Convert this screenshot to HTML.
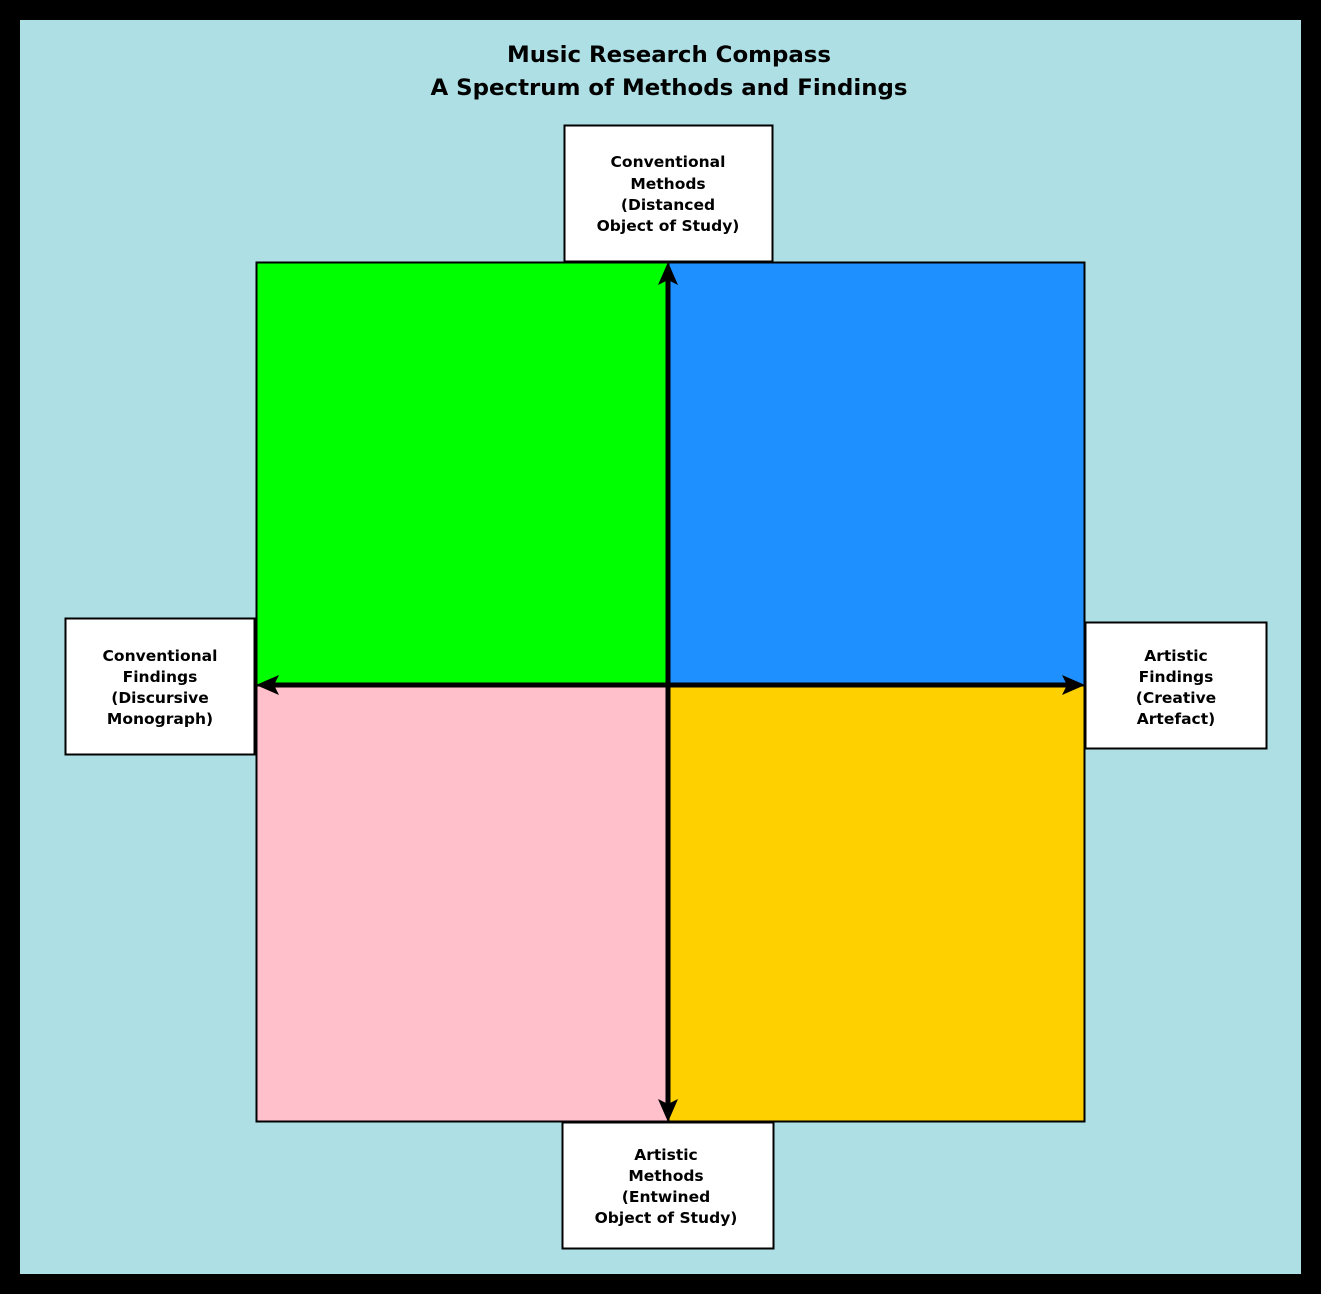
<!DOCTYPE html>
<html><head><meta charset="utf-8"><style>
html,body{margin:0;padding:0;background:#000;}
svg{display:block;}
text{font-family:"DejaVu Sans","Liberation Sans",sans-serif;font-weight:bold;fill:#000;}
</style></head><body>
<svg width="1321" height="1294" viewBox="0 0 1321 1294" xmlns="http://www.w3.org/2000/svg">
<rect x="0" y="0" width="1321" height="1294" fill="#000"/>
<rect x="20" y="20" width="1281" height="1254" fill="#ADDFE5"/>
<text x="669" y="62" font-size="22" text-anchor="middle" textLength="324" lengthAdjust="spacingAndGlyphs">Music Research Compass</text>
<text x="669" y="95" font-size="22" text-anchor="middle" textLength="477" lengthAdjust="spacingAndGlyphs">A Spectrum of Methods and Findings</text>

<rect x="256.5" y="262.5" width="412" height="423" fill="#00FF00" stroke="#000" stroke-width="2"/>
<rect x="668.5" y="262.5" width="416" height="423" fill="#1E90FF" stroke="#000" stroke-width="2"/>
<rect x="256.5" y="685.5" width="412" height="436" fill="#FFC0CB" stroke="#000" stroke-width="2"/>
<rect x="668.5" y="685.5" width="416" height="436" fill="#FFD000" stroke="#000" stroke-width="2"/>

<rect x="564.5" y="125.5" width="208" height="136" fill="#fff" stroke="#000" stroke-width="2"/>
<g font-size="15.5" text-anchor="middle">
<text x="668" y="167">Conventional</text>
<text x="668" y="189">Methods</text>
<text x="668" y="210">(Distanced</text>
<text x="668" y="231">Object of Study)</text>
</g>
<rect x="65.5" y="618.5" width="189" height="136" fill="#fff" stroke="#000" stroke-width="2"/>
<g font-size="15.5" text-anchor="middle">
<text x="160" y="661">Conventional</text>
<text x="160" y="682">Findings</text>
<text x="160" y="703">(Discursive</text>
<text x="160" y="724">Monograph)</text>
</g>
<rect x="1085.5" y="622.5" width="181" height="126" fill="#fff" stroke="#000" stroke-width="2"/>
<g font-size="15.5" text-anchor="middle">
<text x="1176" y="661">Artistic</text>
<text x="1176" y="682">Findings</text>
<text x="1176" y="703">(Creative</text>
<text x="1176" y="724">Artefact)</text>
</g>
<rect x="562.5" y="1122.5" width="211" height="126" fill="#fff" stroke="#000" stroke-width="2"/>
<g font-size="15.5" text-anchor="middle">
<text x="666" y="1160">Artistic</text>
<text x="666" y="1181">Methods</text>
<text x="666" y="1202">(Entwined</text>
<text x="666" y="1223">Object of Study)</text>
</g>

<line x1="668" y1="280" x2="668" y2="1104" stroke="#000" stroke-width="5"/>
<line x1="274" y1="685" x2="1067" y2="685" stroke="#000" stroke-width="5"/>
<polygon points="668,262 658,285 668,280 678,285" fill="#000"/>
<polygon points="668,1122 658,1099 668,1104 678,1099" fill="#000"/>
<polygon points="256,685 279,675 274,685 279,695" fill="#000"/>
<polygon points="1085,685 1062,675 1067,685 1062,695" fill="#000"/>
</svg>
</body></html>
